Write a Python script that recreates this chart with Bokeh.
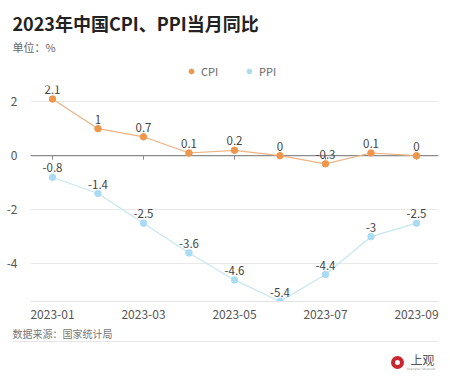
from bokeh.plotting import figure
from bokeh.layouts import column
from bokeh.models import (ColumnDataSource, Label, Legend, LegendItem, Range1d,
                          FixedTicker, BoxAnnotation, Span)
from bokeh.core.properties import value
from bokeh.embed import file_html
from bokeh.resources import INLINE

months = ["2023-01", "2023-02", "2023-03", "2023-04", "2023-05",
          "2023-06", "2023-07", "2023-08", "2023-09"]
cpi = [2.1, 1, 0.7, 0.1, 0.2, 0, -0.3, 0.1, 0]
ppi = [-0.8, -1.4, -2.5, -3.6, -4.6, -5.4, -4.4, -3, -2.5]
y_ticks = [-4, -2, 0, 2]
x_tick_labels = ["2023-01", "2023-03", "2023-05", "2023-07", "2023-09"]
series_names = ["CPI", "PPI"]

FONT = "Noto Sans CJK SC"
CPI_C = "#F0964B"
PPI_C = "#A9DCF2"
W = 442


def blank(h):
    f = figure(width=W, height=h, output_backend="svg", toolbar_location=None,
               x_range=Range1d(0, W), y_range=Range1d(0, h),
               x_axis_location=None, y_axis_location=None,
               min_border=0, min_border_left=0, min_border_right=0,
               min_border_top=0, min_border_bottom=0)
    f.grid.visible = False
    f.outline_line_color = None
    f.background_fill_color = "white"
    f.border_fill_color = "white"
    f.frame_align = False
    return f


def lab(f, h, text, px, py, size, color, style="normal", align="left", font=FONT):
    f.add_layout(Label(x=px, y=h - py, x_units="screen", y_units="screen",
                       text=text, text_font=font, text_font_size=size,
                       text_color=color, text_font_style=style,
                       text_align=align, text_baseline="middle"))


# ---------------- header ----------------
HH = 80
hdr = blank(HH)
lab(hdr, HH, "2023年中国CPI、PPI当月同比", 12, 22, "18px", "#222222", "bold")
lab(hdr, HH, "单位：%", 12, 46, "11px", "#666666")
lg_cpi = hdr.scatter(x=[-1000], y=[-1000], size=8, fill_color=CPI_C, line_color=CPI_C)
lg_ppi = hdr.scatter(x=[-1000], y=[-1000], size=8, fill_color=PPI_C, line_color=PPI_C)
legend = Legend(items=[LegendItem(label=series_names[0], renderers=[lg_cpi]),
                       LegendItem(label=series_names[1], renderers=[lg_ppi])],
                orientation="horizontal", location=(185, 1),
                label_text_font=FONT, label_text_font_size="11px",
                label_text_color="#666666", glyph_width=12, glyph_height=12,
                label_standoff=4, spacing=22, padding=0, margin=0,
                border_line_color=None, background_fill_alpha=0)
hdr.add_layout(legend, "center")

# ---------------- main chart ----------------
idx = list(range(len(months)))
fmt = lambda v: ("%g" % v)
src = ColumnDataSource(dict(x=idx, cpi=cpi, ppi=ppi,
                            cpi_t=[fmt(v) for v in cpi],
                            ppi_t=[fmt(v) for v in ppi]))

p = figure(width=W, height=245, output_backend="svg", toolbar_location=None,
           x_range=Range1d(-0.4835, 8.4835), y_range=Range1d(-5.4, 2.6),
           min_border_left=30, min_border_right=4, min_border_top=5,
           min_border_bottom=24)
p.outline_line_color = None
p.background_fill_color = "white"
p.border_fill_color = "white"
p.frame_align = False

p.xgrid.visible = False
p.ygrid.ticker = FixedTicker(ticks=[t for t in y_ticks if t != 0])
p.ygrid.grid_line_color = "#E8E8E8"
p.ygrid.grid_line_width = 1
p.add_layout(Span(location=0, dimension="width", line_color="#8C8C8C",
                  line_width=1.2, level="underlay"))

tick_pos = [months.index(m) for m in x_tick_labels]
p.xaxis.ticker = FixedTicker(ticks=tick_pos)
p.xaxis.major_label_overrides = {i: m for i, m in zip(tick_pos, x_tick_labels)}
p.xaxis.axis_line_color = "#E3E3E3"
p.xaxis.major_tick_line_color = None
p.xaxis.minor_tick_line_color = None
p.xaxis.major_label_text_font = FONT
p.xaxis.major_label_text_font_size = "12px"
p.xaxis.major_label_text_color = "#555555"
p.xaxis.major_label_standoff = 2

p.yaxis.ticker = FixedTicker(ticks=y_ticks)
p.yaxis.major_label_overrides = {t: fmt(t) for t in y_ticks}
p.yaxis.axis_line_color = None
p.yaxis.major_tick_line_color = None
p.yaxis.minor_tick_line_color = None
p.yaxis.major_label_text_font = FONT
p.yaxis.major_label_text_font_size = "12px"
p.yaxis.major_label_text_color = "#555555"
p.yaxis.major_label_standoff = 7

tk = p.segment(x0=tick_pos, x1=tick_pos, y0=[0] * len(tick_pos),
               y1=[-0.15] * len(tick_pos), line_color="#8C8C8C", line_width=1)
tk.level = "underlay"

p.line("x", "cpi", source=src, line_color="#EDB383", line_width=1.2)
p.scatter("x", "cpi", source=src, size=6.5, fill_color=CPI_C, line_color=CPI_C)
p.line("x", "ppi", source=src, line_color="#C6E7EE", line_width=1.2)
p.scatter("x", "ppi", source=src, size=6.5, fill_color=PPI_C, line_color=PPI_C)

for col, tcol in (("cpi", "cpi_t"), ("ppi", "ppi_t")):
    p.text("x", col, text=tcol, source=src, text_align="center", text_baseline="bottom",
           y_offset=-5, text_font=value(FONT), text_font_size="11.5px",
           text_color="#444444")

# ---------------- footer ----------------
FH = 58
ftr = blank(FH)
lab(ftr, FH, "数据来源：国家统计局", 12, 8, "10px", "#777777")
ftr.add_layout(BoxAnnotation(left=12, right=438, bottom=FH - 16.5, top=FH - 15.5,
                             left_units="screen", right_units="screen",
                             bottom_units="screen", top_units="screen",
                             fill_color="#E6E6E6", fill_alpha=1, line_color=None))
ftr.scatter(x=[397], y=[FH - 37], size=9, fill_color="white",
            line_color="#C8282D", line_width=4)
lab(ftr, FH, "上观", 410, 34, "12px", "#555555")
lab(ftr, FH, "Shanghai Observer", 435, 43, "3px", "#999999", align="right",
    font="DejaVu Sans")

layout = column(hdr, p, ftr, spacing=0)
open("out.html", "w").write(file_html(layout, INLINE))
